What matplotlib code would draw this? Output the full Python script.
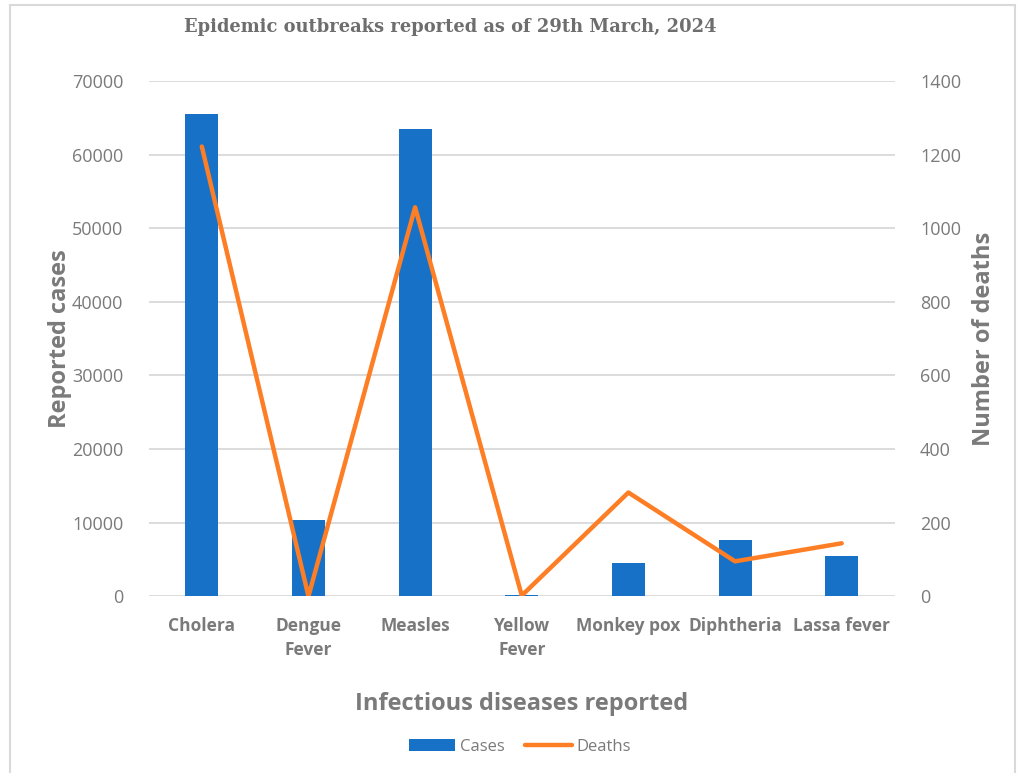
import numpy as np
import matplotlib.pyplot as plt
from matplotlib.patches import Rectangle

diseases = ['Cholera', 'Dengue\nFever', 'Measles', 'Yellow\nFever',
            'Monkey pox', 'Diphtheria', 'Lassa fever']
cases = [65500, 10300, 63500, 200, 4500, 7600, 5500]
deaths = [1222, 0, 1057, 2, 282, 95, 144]
cases_ticks = [0, 10000, 20000, 30000, 40000, 50000, 60000, 70000]
deaths_ticks = [0, 200, 400, 600, 800, 1000, 1200, 1400]

BLUE = '#1771c7'
ORANGE = '#fd7e24'
GREY = '#7a7a7a'
GRID = '#d9d9d9'
SANS = 'Open Sans'

fig = plt.figure(figsize=(10.25, 7.73), dpi=100)
ax = fig.add_axes([148.5/1025, 1-596.3/773, (895-148.5)/1025, (596.3-81)/773])
ax2 = ax.twinx()

x = np.arange(len(diseases))
ax.bar(x, cases, width=0.31, color=BLUE, zorder=2, label='Cases')
ax2.plot(x, deaths, color=ORANGE, lw=3.2, solid_capstyle='round', zorder=3, label='Deaths')

ax.set_xlim(-0.5, len(diseases)-0.5)
ax.set_ylim(0, 70000)
ax2.set_ylim(0, 1400)
ax.set_yticks(cases_ticks)
ax2.set_yticks(deaths_ticks)
ax.set_xticks(x)
ax.set_xticklabels(diseases, fontsize=12.5, fontweight='bold', color=GREY,
                   family=SANS, linespacing=1.4, va='top')
for t in ax.get_yticklabels():
    t.set_fontsize(13); t.set_color(GREY); t.set_family(SANS)
for t in ax2.get_yticklabels():
    t.set_fontsize(13); t.set_color(GREY); t.set_family(SANS)

ax.yaxis.grid(True, color=GRID, lw=1.3, zorder=0)
ax.set_axisbelow(True)
for a in (ax, ax2):
    for s in a.spines.values():
        s.set_visible(False)
    a.tick_params(length=0)
ax.tick_params(axis='y', pad=18)
ax2.tick_params(axis='y', pad=18)
ax.tick_params(axis='x', pad=15)

ax.set_ylabel('Reported cases', fontsize=17, fontweight='bold', color=GREY,
              family=SANS, labelpad=0)
ax2.set_ylabel('Number of deaths', fontsize=17, fontweight='bold', color=GREY,
               family=SANS, labelpad=8)
ax.set_xlabel('Infectious diseases reported', fontsize=17, fontweight='bold',
              color=GREY, family=SANS, labelpad=24)

fig.text(450/1025, 1-27/773, 'Epidemic outbreaks reported as of 29th March, 2024',
         ha='center', va='center', fontsize=12.9, fontweight='bold', color='#6e6e6e',
         family='DejaVu Serif')

h1, l1 = ax.get_legend_handles_labels()
h2, l2 = ax2.get_legend_handles_labels()
fig.legend(h1+h2, l1+l2, loc='center', bbox_to_anchor=(520/1025, 1-747/773), ncol=2,
           frameon=False, prop={'family': SANS, 'size': 12}, labelcolor=GREY,
           handlelength=2.8, handletextpad=0.3, columnspacing=1.2)

fig.patches.append(Rectangle((10/1025, -0.01), 1005/1025, 1-5/773+0.01,
                             transform=fig.transFigure, fill=False,
                             edgecolor='#d9d9d9', lw=1.5))

fig.savefig('out.png', dpi=100)
